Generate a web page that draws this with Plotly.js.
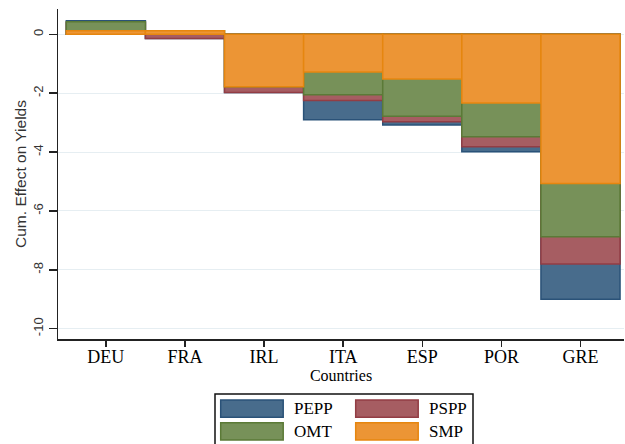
<!DOCTYPE html>
<html>
<head>
<meta charset="utf-8">
<script src="https://cdn.plot.ly/plotly-3.0.1.min.js"></script>
<style>html,body{margin:0;padding:0;background:#fff;}#chart{width:625px;height:444px;}</style>
</head>
<body>
<div id="chart"></div>
<script>
// Countries (x categories)
const countries = ['DEU', 'FRA', 'IRL', 'ITA', 'ESP', 'POR', 'GRE'];
// Cumulative effect on yields (each series includes the ones before it)
const smp  = [0.12, 0.12, -1.78, -1.28, -1.52, -2.33, -5.07];
const omt  = [0.43, 0.12, -1.78, -2.05, -2.78, -3.48, -6.88];
const pspp = [0.40, -0.14, -1.98, -2.25, -2.97, -3.82, -7.80];
const pepp = [0.46, -0.14, -1.98, -2.90, -3.08, -3.99, -9.00];
const seriesNames = ['PEPP', 'PSPP', 'OMT', 'SMP'];
const fills = ['#486c8c', '#a65d62', '#779159', '#ec9535'];
const edges = ['#2a5278', '#923d44', '#5b7a37', '#e6860f'];
const yTicks = [0, -2, -4, -6, -8, -10];

const seriesVals = [pepp, pspp, omt, smp];
const traces = seriesVals.map((vals, i) => ({
  type: 'bar',
  name: seriesNames[i],
  x: countries,
  y: vals,
  width: 1,
  marker: {color: fills[i], line: {color: edges[i], width: 1.5}},
  showlegend: false,
  hoverinfo: 'x+y+name'
}));

// plot area in pixels: x 58..624, y 9..339
const L = 58, R = 624, T = 9, B = 339;
const px = v => (v - L) / (R - L);
const py = v => (B - v) / (B - T);

const serif = 'Liberation Serif, Times New Roman, serif';
const sans = 'Liberation Sans, Arial, sans-serif';

const shapes = [{
  type: 'rect', xref: 'paper', yref: 'paper',
  x0: px(215), x1: px(473), y0: py(447), y1: py(394),
  line: {color: '#111', width: 1.5}, fillcolor: 'rgba(0,0,0,0)'
}];
const annotations = [];
const legendPos = [[220.7, 400], [355.7, 400], [220.7, 422.7], [355.7, 422.7]];
seriesNames.forEach((n, i) => {
  const [lx, ly] = legendPos[i];
  shapes.push({
    type: 'rect', xref: 'paper', yref: 'paper',
    x0: px(lx), x1: px(lx + 62.5), y0: py(ly + 17.3), y1: py(ly),
    fillcolor: fills[i], line: {color: edges[i], width: 1.5}
  });
  annotations.push({
    xref: 'paper', yref: 'paper', x: px(lx + 71), y: py(ly + 8.8),
    xanchor: 'left', yanchor: 'middle', showarrow: false, text: n,
    font: {family: serif, size: 17, color: '#000'}
  });
});

const layout = {
  width: 625, height: 444,
  margin: {l: L, r: 625 - R, t: T, b: 444 - B},
  paper_bgcolor: '#ffffff', plot_bgcolor: '#ffffff',
  barmode: 'overlay',
  bargap: 0,
  showlegend: false,
  xaxis: {
    type: 'category',
    range: [-0.605, 6.55],
    showgrid: false,
    showline: true, linecolor: '#222', linewidth: 1.5,
    ticks: 'outside', ticklen: 6, tickwidth: 1.5, tickcolor: '#222',
    ticklabelstandoff: -5,
    tickfont: {family: serif, size: 18, color: '#000'},
    title: {text: 'Countries', standoff: 0,
      font: {family: serif, size: 16, color: '#000'}},
    zeroline: false, fixedrange: true
  },
  yaxis: {
    range: [-10.35, 0.86],
    tickvals: yTicks,
    ticktext: yTicks.map(String),
    tickangle: -90,
    showgrid: true, gridcolor: '#e6eef2', gridwidth: 1,
    showline: true, linecolor: '#222', linewidth: 1.5,
    ticks: 'outside', ticklen: 8, tickwidth: 1.5, tickcolor: '#222',
    ticklabelstandoff: 0,
    tickfont: {family: sans, size: 13, color: '#333'},
    title: {text: 'Cum. Effect on Yields', standoff: 1,
      font: {family: sans, size: 15.5, color: '#333'}},
    zeroline: false, fixedrange: true
  },
  shapes: shapes,
  annotations: annotations
};

Plotly.newPlot('chart', traces, layout, {displayModeBar: false, staticPlot: true});
</script>
</body>
</html>
